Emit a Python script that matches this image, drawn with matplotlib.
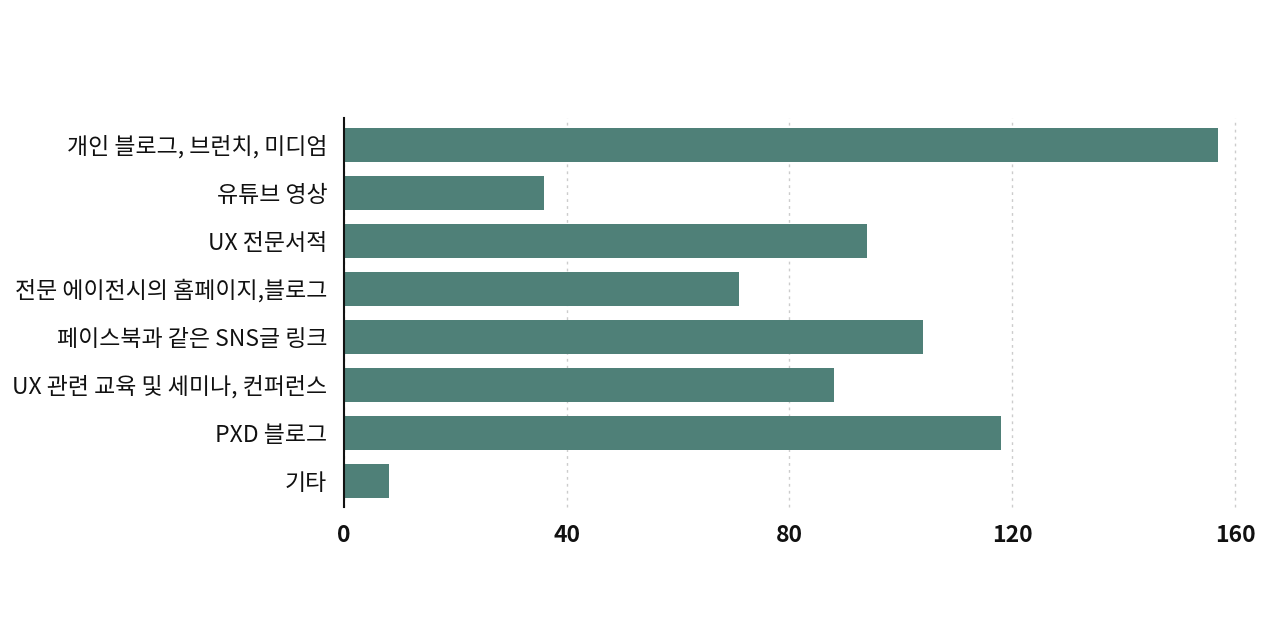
import matplotlib
matplotlib.use('Agg')
import matplotlib.pyplot as plt
import numpy as np

plt.rcParams['font.family'] = ['Noto Sans CJK KR', 'DejaVu Sans']

# data
categories = ['개인 블로그, 브런치, 미디엄', '유튜브 영상', 'UX 전문서적',
              '전문 에이전시의 홈페이지,블로그', '페이스북과 같은 SNS글 링크',
              'UX 관련 교육 및 세미나, 컨퍼런스', 'PXD 블로그', '기타']
values = [157, 36, 94, 71, 104, 88, 118, 8]
xticks = [0, 40, 80, 120, 160]

fig = plt.figure(figsize=(12.8, 6.38), dpi=100)
ax = fig.add_axes([0.26875, 0.2053, 0.9648 - 0.26875, 0.815 - 0.2053])

y = np.arange(len(categories))
ax.barh(y, values, height=0.71, color='#4f8078', zorder=2)
ax.set_ylim(len(categories) - 0.45, -0.56)
ax.set_xlim(0, 160)

ax.set_xticks(xticks)
ax.set_xticklabels([str(t) for t in xticks], fontsize=16.5, fontweight='semibold', color='#111111')
ax.set_yticks(y)
ax.set_yticklabels(categories, fontsize=16.5, color='#111111')
ax.tick_params(axis='both', length=0)
ax.tick_params(axis='y', pad=12)
ax.tick_params(axis='x', pad=12)

ax.grid(axis='x', linestyle=(0, (2, 3)), color='#cccccc', linewidth=1, zorder=0)
for gl in ax.get_xgridlines():
    gl.set_clip_on(False)
for s in ['top', 'right', 'bottom']:
    ax.spines[s].set_visible(False)
ax.spines['left'].set_color('#111111')
ax.spines['left'].set_linewidth(1.5)
ax.spines['left'].set_zorder(3)

fig.savefig('out.png', dpi=100)
